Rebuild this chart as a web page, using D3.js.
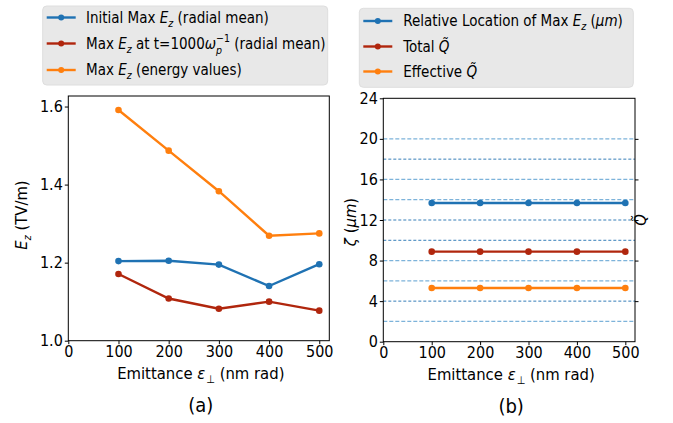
<!DOCTYPE html>
<html><head><meta charset="utf-8">
<script src="https://cdn.jsdelivr.net/npm/d3@7"></script>
<style>body{margin:0;background:#fff}svg{display:block}text{font-family:"DejaVu Sans Condensed","DejaVu Sans",sans-serif;fill:#000}</style>
</head><body><svg id="c" width="673" height="423"></svg>
<script>
// ---- data ----
const emittance = [100, 200, 300, 400, 500];
const initialMaxEz = [1.204, 1.205, 1.195, 1.140, 1.196];
const maxEzT1000 = [1.171, 1.108, 1.082, 1.100, 1.077];
const maxEzEnergy = [1.591, 1.487, 1.383, 1.269, 1.275];
const relLocation = [13.68, 13.68, 13.68, 13.68, 13.68];
const totalQ = [8.88, 8.88, 8.88, 8.88, 8.88];
const effectiveQ = [5.29, 5.29, 5.29, 5.29, 5.29];
const xTicks = [0, 100, 200, 300, 400, 500];
const yTicksA = [1.0, 1.2, 1.4, 1.6];
const yTicksB = [0, 4, 8, 12, 16, 20, 24];
const gridLight = [2, 6, 8, 14, 16, 20];
const gridDark = [4, 10, 12, 18];
const rightTicks = [4, 8, 12, 16, 20];

const FF = '"DejaVu Sans Condensed","DejaVu Sans",sans-serif';
const FS = 15, TS = 16, LS = 16.5;
const C = {blue:"#1f72b3", red:"#b0260d", orange:"#ff7f0e"};
const svg = d3.select("#c");

function rich(sel, segs){
  segs.forEach(s=>{
    const t = sel.append("tspan").text(s.t);
    if(s.i) t.attr("font-style","italic");
    if(s.fs) t.attr("font-size", s.fs);
    if(s.dx!=null) t.attr("dx", s.dx);
    if(s.dy!=null) t.attr("dy", s.dy);
  });
  return sel;
}

function panel(cfg){
  const g = svg.append("g");
  const x = d3.scaleLinear().domain([0,520]).range([cfg.x0,cfg.x1]);
  const y = d3.scaleLinear().domain(cfg.yDom).range([cfg.yb,cfg.yt]);
  if(cfg.grid){
    cfg.grid.forEach(gr=>{
      g.selectAll(null).data(gr.vals).enter().append("line")
        .attr("x1",cfg.x0).attr("x2",cfg.x1).attr("y1",d=>y(d)).attr("y2",d=>y(d))
        .attr("stroke",gr.color).attr("stroke-width",gr.w).attr("stroke-dasharray",gr.dash);
    });
  }
  const xa = g.append("g").attr("transform",`translate(0,${cfg.yb})`)
    .call(d3.axisBottom(x).tickValues(xTicks).tickSize(3.5).tickPadding(1.5).tickFormat(d3.format("d")));
  const ya = g.append("g").attr("transform",`translate(${cfg.x0},0)`)
    .call(d3.axisLeft(y).tickValues(cfg.yTicks).tickSize(3.5).tickPadding(2).tickFormat(cfg.fmt));
  [xa,ya].forEach(a=>{a.select(".domain").remove();a.selectAll("text").attr("font-size",TS).attr("font-family",FF).attr("fill","#000");a.selectAll("line").attr("stroke","#000");});
  if(cfg.right){
    const ra = g.append("g").attr("transform",`translate(${cfg.x1},0)`)
      .call(d3.axisRight(y).tickValues(rightTicks).tickSize(3.5).tickFormat(""));
    ra.select(".domain").remove(); ra.selectAll("line").attr("stroke","#000");
  }
  g.append("rect").attr("x",cfg.x0).attr("y",cfg.yt).attr("width",cfg.x1-cfg.x0).attr("height",cfg.yb-cfg.yt)
    .attr("fill","none").attr("stroke","#000").attr("stroke-width",1);
  cfg.series.forEach(s=>{
    const line = d3.line().x((d,i)=>x(emittance[i])).y(d=>y(d));
    g.append("path").datum(s.v).attr("d",line).attr("fill","none").attr("stroke",s.c).attr("stroke-width",2.4);
    g.selectAll(null).data(s.v).enter().append("circle")
      .attr("cx",(d,i)=>x(emittance[i])).attr("cy",d=>y(d)).attr("r",3.3).attr("fill",s.c);
  });
  const xl = g.append("text").attr("x",(cfg.x0+cfg.x1)/2+2).attr("y",cfg.yb+38).attr("text-anchor","middle").attr("font-size",LS);
  rich(xl,[{t:"Emittance "},{t:"ε",i:1},{t:"⊥",fs:11,dx:1,dy:4},{t:" (nm rad)",dy:-4}]);
  g.append("text").attr("x",(cfg.x0+cfg.x1)/2+2).attr("y",cfg.yb+71).attr("text-anchor","middle").attr("font-size",20).text(cfg.tag);
  const L = cfg.legend;
  g.append("rect").attr("x",L.x).attr("y",L.y).attr("width",L.w).attr("height",L.h).attr("rx",4)
    .attr("fill","#e8e8e8").attr("stroke","#dedede");
  L.items.forEach((it,i)=>{
    const yy = L.rows[i];
    g.append("line").attr("x1",L.lx).attr("x2",L.lx+29).attr("y1",yy).attr("y2",yy).attr("stroke",it.c).attr("stroke-width",2.4);
    g.append("circle").attr("cx",L.lx+14.5).attr("cy",yy).attr("r",3).attr("fill",it.c);
    const t = g.append("text").attr("x",L.tx).attr("y",yy+5).attr("font-size",FS);
    rich(t,it.segs);
  });
  return {g,x,y};
}

const Ez = [{t:"E",i:1},{t:"z",i:1,fs:10.5,dy:4}];
panel({x0:68.3,x1:329.3,yt:96,yb:340.7,yDom:[1.0,1.627],yTicks:yTicksA,fmt:d3.format(".1f"),tag:"(a)",
  series:[{v:initialMaxEz,c:C.blue},{v:maxEzT1000,c:C.red},{v:maxEzEnergy,c:C.orange}],
  legend:{x:42.7,y:6,w:285,h:79,lx:46.7,tx:86,rows:[17.5,43.5,70],items:[
    {c:C.blue,segs:[{t:"Initial Max "},...Ez,{t:" (radial mean)",dy:-4}]},
    {c:C.red,segs:[{t:"Max "},...Ez,{t:" at t=1000",dy:-4},{t:"ω",i:1},{t:"p",i:1,fs:10.5,dy:5},{t:"−1",fs:10.5,dx:-6,dy:-12},{t:" (radial mean)",dy:7}]},
    {c:C.orange,segs:[{t:"Max "},...Ez,{t:" (energy values)",dy:-4}]}
  ]}});
panel({x0:383.3,x1:635,yt:98.3,yb:341.7,yDom:[0,24],yTicks:yTicksB,fmt:d3.format("d"),tag:"(b)",right:true,
  grid:[{vals:gridLight,color:"#7db3da",w:1.3,dash:"4,2"},{vals:gridDark,color:"#1f6fb0",w:0.9,dash:"3,2"}],
  series:[{v:relLocation,c:C.blue},{v:totalQ,c:C.red},{v:effectiveQ,c:C.orange}],
  legend:{x:359.3,y:8.3,w:274,h:79,lx:363.3,tx:403.3,rows:[21,46.5,71.5],items:[
    {c:C.blue,segs:[{t:"Relative Location of Max "},...Ez,{t:" (",dy:-4},{t:"μm",i:1},{t:")"}]},
    {c:C.red,segs:[{t:"Total "},{t:"Q̃",i:1}]},
    {c:C.orange,segs:[{t:"Effective "},{t:"Q̃",i:1}]}
  ]}});

const yl = svg.append("text").attr("transform","translate(27,215) rotate(-90)").attr("text-anchor","middle").attr("font-size",LS);
rich(yl,[...Ez,{t:" (TV/m)",dy:-4}]);
const yl2 = svg.append("text").attr("transform","translate(356,222) rotate(-90)").attr("text-anchor","middle").attr("font-size",LS);
rich(yl2,[{t:"ζ",i:1},{t:" ("},{t:"μm",i:1},{t:")"}]);
svg.append("text").attr("transform","translate(646,220) rotate(-90)").attr("text-anchor","middle").attr("font-size",LS).attr("font-style","italic").text("Q̃");
</script></body></html>
